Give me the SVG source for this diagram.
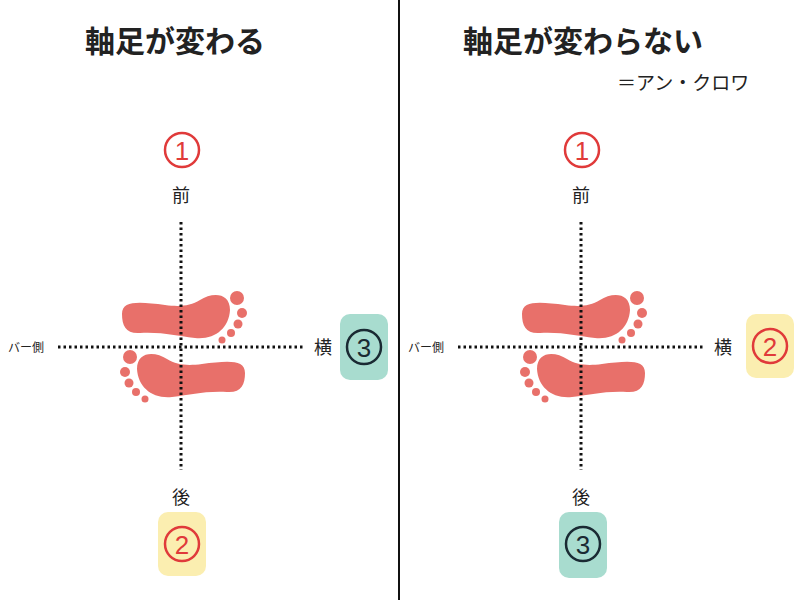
<svg xmlns="http://www.w3.org/2000/svg" xmlns:xlink="http://www.w3.org/1999/xlink" width="800" height="600" viewBox="0 0 800 600">
<style>
text{font-family:"Noto Sans CJK JP","Noto Sans",sans-serif;fill:#222}
.t{font-size:30px;font-weight:bold;text-anchor:middle}
.l{font-size:18px;text-anchor:middle}
.dot{stroke:#111;stroke-width:3;stroke-dasharray:2.5 3;fill:none}
.foot{fill:#e8706a}
.cr{fill:none;stroke:#e03a3a;stroke-width:2.5}
.cd{fill:none;stroke:#1a2a33;stroke-width:2.5}
.nr{font-family:"Liberation Sans",sans-serif;font-size:26px;fill:#e03a3a;text-anchor:middle}
.nd{font-family:"Liberation Sans",sans-serif;font-size:26px;fill:#1a2a33;text-anchor:middle}
</style>
<defs>
<g id="foot" class="foot">
<path d="M122 314C122 300 140 302 165 305C180 307 190 306 200 300C212 292 230 292 230 310C229 328 215 340 195 338C175 336 165 332 140 333C126 334 122 326 122 314Z"/>
<circle cx="237" cy="298" r="7"/><circle cx="242" cy="313" r="5"/><circle cx="238" cy="324" r="4.5"/><circle cx="231" cy="333" r="4"/><circle cx="222" cy="340" r="3.5"/>
</g>
<g id="feet">
<use xlink:href="#foot"/>
<use xlink:href="#foot" transform="translate(367 59) scale(-1 1)"/>
</g>
</defs>
<line x1="399" y1="0" x2="399" y2="600" stroke="#111" stroke-width="2"/>
<g id="left">
<text class="t" x="175" y="52">軸足が変わる</text>
<g id="feetL"><use xlink:href="#feet"/></g>
<g id="axesL"><line class="dot" x1="181" y1="222" x2="181" y2="470"/><line class="dot" x1="58" y1="347" x2="305" y2="347"/></g>
<text class="l" x="181" y="202">前</text>
<text class="l" x="181" y="504">後</text>
<text x="8" y="352" style="font-size:12px">バー側</text>
<text class="l" x="323" y="354">横</text>
<g id="n1L"><circle class="cr" cx="182" cy="150" r="17"/><text class="nr" x="182" y="160">1</text></g>
<g id="n3L"><rect x="340" y="314" width="48" height="66" rx="10" fill="#a8dccf"/><circle class="cd" cx="364" cy="347" r="17"/><text class="nd" x="364" y="357">3</text></g>
<g id="n2L"><rect x="158" y="512" width="48" height="64" rx="10" fill="#fbeeb0"/><circle class="cr" cx="182" cy="544" r="17"/><text class="nr" x="182" y="554">2</text></g>
</g>
<g id="right">
<text class="t" x="583" y="52">軸足が変わらない</text>
<text x="617" y="90" style="font-size:19px">＝アン・クロワ</text>
<g id="feetR"><use xlink:href="#feet" transform="translate(400 0)"/></g>
<g id="axesR"><line class="dot" x1="581" y1="222" x2="581" y2="470"/><line class="dot" x1="458" y1="347" x2="705" y2="347"/></g>
<text class="l" x="581" y="202">前</text>
<text class="l" x="581" y="504">後</text>
<text x="408" y="352" style="font-size:12px">バー側</text>
<text class="l" x="723" y="354">横</text>
<g id="n1R"><circle class="cr" cx="582" cy="150" r="17"/><text class="nr" x="582" y="160">1</text></g>
<g id="n2R"><rect x="746" y="314" width="48" height="64" rx="10" fill="#fbeeb0"/><circle class="cr" cx="770" cy="346" r="17"/><text class="nr" x="770" y="356">2</text></g>
<g id="n3R"><rect x="559" y="512" width="48" height="66" rx="10" fill="#a8dccf"/><circle class="cd" cx="583" cy="544" r="17"/><text class="nd" x="583" y="554">3</text></g>
</g>
</svg>
